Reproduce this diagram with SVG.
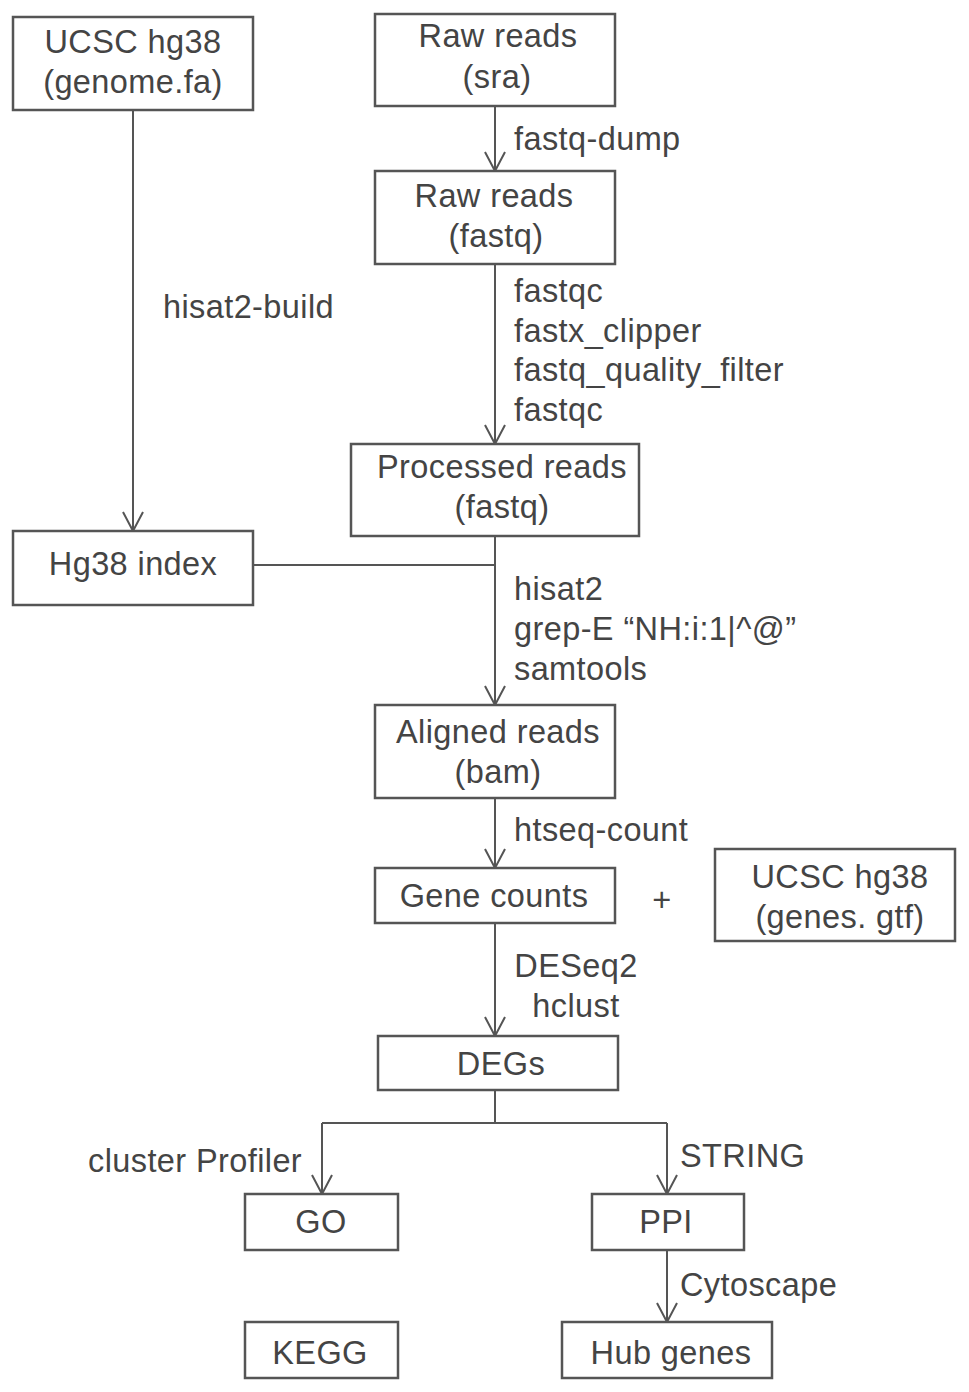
<svg xmlns="http://www.w3.org/2000/svg" width="969" height="1392" viewBox="0 0 969 1392">
<style>
.box{fill:#fff;stroke:#555;stroke-width:2.5}
.t{font-family:"Liberation Sans",Arial,sans-serif;font-size:32.5px;fill:#444;letter-spacing:0.4px}
.c{text-anchor:middle}
.ln{fill:none;stroke:#555;stroke-width:2}
</style>
<defs>
<marker id="ah" viewBox="0 0 22 22" refX="20" refY="11" markerWidth="22" markerHeight="22" orient="auto" markerUnits="userSpaceOnUse">
<path d="M1,1 L20,11 L1,21" fill="none" stroke="#555" stroke-width="2"/>
</marker>
</defs>
<rect width="969" height="1392" fill="#fff"/>
<g id="connectors">
<path class="ln" d="M133,110 V531" marker-end="url(#ah)"/>
<path class="ln" d="M495,106 V171" marker-end="url(#ah)"/>
<path class="ln" d="M495,264 V444" marker-end="url(#ah)"/>
<path class="ln" d="M495,536 V705" marker-end="url(#ah)"/>
<path class="ln" d="M253,565 H495"/>
<path class="ln" d="M495,798 V868" marker-end="url(#ah)"/>
<path class="ln" d="M495,923 V1036" marker-end="url(#ah)"/>
<path class="ln" d="M495,1090 V1123 M322,1123 H667"/>
<path class="ln" d="M322,1123 V1194" marker-end="url(#ah)"/>
<path class="ln" d="M667,1123 V1194" marker-end="url(#ah)"/>
<path class="ln" d="M667,1250 V1322" marker-end="url(#ah)"/>
<text class="t" x="514" y="150">fastq-dump</text>
<text class="t" x="163" y="318">hisat2-build</text>
<text class="t" x="514" y="302">fastqc</text>
<text class="t" x="514" y="342">fastx_clipper</text>
<text class="t" x="514" y="381">fastq_quality_filter</text>
<text class="t" x="514" y="421">fastqc</text>
<text class="t" x="514" y="600">hisat2</text>
<text class="t" x="514" y="640">grep-E “NH:i:1|^@”</text>
<text class="t" x="514" y="680">samtools</text>
<text class="t" x="514" y="841">htseq-count</text>
<text class="t c" x="576" y="977">DESeq2</text>
<text class="t c" x="576" y="1017">hclust</text>
<text class="t" x="88" y="1172">cluster Profiler</text>
<text class="t" x="680" y="1167">STRING</text>
<text class="t" x="680" y="1296">Cytoscape</text>
<text class="t c" x="662" y="911">+</text>
</g>
<g id="genome">
<rect class="box" x="13" y="17" width="240" height="93"/>
<text class="t c" x="133" y="53">UCSC hg38</text>
<text class="t c" x="133" y="93">(genome.fa)</text>
</g>
<g id="raw-sra">
<rect class="box" x="375" y="14" width="240" height="92"/>
<text class="t c" x="498" y="47">Raw reads</text>
<text class="t c" x="497" y="88">(sra)</text>
</g>
<g id="raw-fastq">
<rect class="box" x="375" y="171" width="240" height="93"/>
<text class="t c" x="494" y="207">Raw reads</text>
<text class="t c" x="496" y="247">(fastq)</text>
</g>
<g id="processed">
<rect class="box" x="351" y="444" width="288" height="92"/>
<text class="t c" x="502" y="478">Processed reads</text>
<text class="t c" x="502" y="518">(fastq)</text>
</g>
<g id="hg38-index">
<rect class="box" x="13" y="531" width="240" height="74"/>
<text class="t c" x="133" y="575">Hg38 index</text>
</g>
<g id="aligned">
<rect class="box" x="375" y="705" width="240" height="93"/>
<text class="t c" x="498" y="743">Aligned reads</text>
<text class="t c" x="498" y="783">(bam)</text>
</g>
<g id="gene-counts">
<rect class="box" x="375" y="868" width="240" height="55"/>
<text class="t c" x="494" y="907">Gene counts</text>
</g>
<g id="genes-gtf">
<rect class="box" x="715" y="849" width="240" height="92"/>
<text class="t c" x="840" y="888">UCSC hg38</text>
<text class="t c" x="840" y="928">(genes. gtf)</text>
</g>
<g id="degs">
<rect class="box" x="378" y="1036" width="240" height="54"/>
<text class="t c" x="501" y="1075">DEGs</text>
</g>
<g id="go">
<rect class="box" x="245" y="1194" width="153" height="56"/>
<text class="t c" x="321" y="1233">GO</text>
</g>
<g id="ppi">
<rect class="box" x="592" y="1194" width="152" height="56"/>
<text class="t c" x="666" y="1233">PPI</text>
</g>
<g id="kegg">
<rect class="box" x="245" y="1322" width="153" height="56"/>
<text class="t c" x="320" y="1364">KEGG</text>
</g>
<g id="hub">
<rect class="box" x="562" y="1322" width="210" height="56"/>
<text class="t c" x="671" y="1364">Hub genes</text>
</g>
</svg>
